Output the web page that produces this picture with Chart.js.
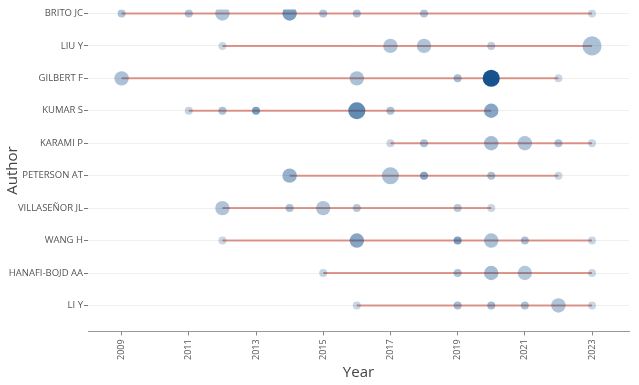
<!DOCTYPE html>
<html>
<head>
<meta charset="utf-8">
<script src="https://cdn.jsdelivr.net/npm/chart.js@4"></script>
<style>
  body { margin: 0; background: #fff; }
  #wrap { width: 639px; height: 385px; }
</style>
</head>
<body>
<div id="wrap"><canvas id="prodChart" width="639" height="385"></canvas></div>
<script>
// authors top to bottom
const authors = ['BRITO JC', 'LIU Y', 'GILBERT F', 'KUMAR S', 'KARAMI P',
    'PETERSON AT', 'VILLASEÑOR JL', 'WANG H', 'HANAFI-BOJD AA', 'LI Y'];

// publication years per author
const years = [
    [2009, 2011, 2012, 2014, 2015, 2016, 2018, 2023],
    [2012, 2017, 2018, 2020, 2023],
    [2009, 2016, 2019, 2020, 2022],
    [2011, 2012, 2013, 2016, 2017, 2020],
    [2017, 2018, 2020, 2021, 2022, 2023],
    [2014, 2017, 2018, 2020, 2022],
    [2012, 2014, 2015, 2016, 2019, 2020],
    [2012, 2016, 2019, 2020, 2021, 2023],
    [2015, 2019, 2020, 2021, 2023],
    [2016, 2019, 2020, 2021, 2022, 2023]
];

// number of articles (bubble size)
const articles = [
    [1, 1, 2, 2, 1, 1, 1, 1],
    [1, 2, 2, 1, 4],
    [2, 2, 1, 3, 1],
    [1, 1, 1, 3, 1, 2],
    [1, 1, 2, 2, 1, 1],
    [2, 3, 1, 1, 1],
    [2, 1, 2, 1, 1, 1],
    [1, 2, 1, 2, 1, 1],
    [1, 1, 2, 2, 1],
    [1, 1, 1, 1, 2, 1]
];

// total citations per year (bubble shade)
const tcPerYear = [
    [5, 5, 5, 10, 5, 5, 5, 2.5],
    [2.5, 5, 5, 4, 5.5],
    [5.5, 5.5, 6, 20, 2.5],
    [3, 5.5, 10, 12.5, 5.5, 9],
    [2.5, 5.5, 6, 5, 5, 2.5],
    [7.5, 5.5, 9, 5.5, 2.5],
    [5, 5.5, 5, 4.5, 4.5, 2.5],
    [2.5, 9, 10, 5.5, 5.5, 2.5],
    [3, 5.5, 6, 4.5, 2.5],
    [2.5, 6, 6, 5.5, 5, 2.5]
];

const xTicks = [2009, 2011, 2013, 2015, 2017, 2019, 2021, 2023];

const maxTc = Math.max(...tcPerYear.flat());

function radiusFor(n) {
    return 4 + 3.2 * Math.sqrt(n - 1);
}

function colorFor(tc) {
    const a = 0.12 + 0.85 * tc / maxTc;
    return `rgba(16, 78, 139, ${a.toFixed(3)})`;
}

// one segment per author, first to last year
const lineSets = authors.map((name, i) => ({
    type: 'line',
    label: name,
    data: [
        { x: Math.min(...years[i]), y: i },
        { x: Math.max(...years[i]), y: i }
    ],
    borderColor: 'rgba(190, 50, 30, 0.5)',
    borderWidth: 2,
    pointRadius: 0,
    order: 2
}));

const points = [];
const radii = [];
const colors = [];
authors.forEach((name, i) => {
    years[i].forEach((yr, j) => {
        points.push({ x: yr, y: i });
        radii.push(radiusFor(articles[i][j]));
        colors.push(colorFor(tcPerYear[i][j]));
    });
});

const FONT = "'Open Sans', sans-serif";

new Chart(document.getElementById('prodChart').getContext('2d'), {
    type: 'scatter',
    data: {
        datasets: [
            ...lineSets,
            {
                type: 'scatter',
                label: 'Articles',
                data: points,
                pointRadius: radii,
                pointBackgroundColor: colors,
                pointBorderWidth: 0,
                order: 1
            }
        ]
    },
    options: {
        responsive: false,
        animation: false,
        layout: { padding: { top: 0, right: 10, bottom: 3, left: 0 } },
        plugins: {
            legend: { display: false },
            tooltip: { enabled: false }
        },
        scales: {
            x: {
                type: 'linear',
                min: 2008,
                max: 2024.1,
                afterBuildTicks: axis => { axis.ticks = xTicks.map(v => ({ value: v })); },
                ticks: {
                    color: '#555',
                    font: { family: FONT, size: 9 },
                    minRotation: 90,
                    maxRotation: 90,
                    padding: 4,
                    callback: v => String(v)
                },
                grid: {
                    drawOnChartArea: false,
                    tickColor: '#888',
                    tickLength: 4
                },
                border: { display: true, color: '#999' },
                title: {
                    display: true,
                    text: 'Year',
                    color: '#444',
                    font: { family: FONT, size: 15 },
                    padding: { top: 0, bottom: 0 }
                }
            },
            y: {
                type: 'linear',
                reverse: true,
                min: -0.12,
                max: 9.8,
                afterBuildTicks: axis => { axis.ticks = authors.map((_, i) => ({ value: i })); },
                afterFit: axis => { axis.width = 88; },
                ticks: {
                    color: '#555',
                    font: { family: FONT, size: 9.5 },
                    padding: 1,
                    callback: v => authors[v]
                },
                grid: {
                    color: '#efefef',
                    tickColor: '#777',
                    tickLength: 4
                },
                border: { display: false },
                title: {
                    display: true,
                    text: 'Author',
                    color: '#444',
                    font: { family: FONT, size: 15 },
                    padding: { top: 4, bottom: 0 }
                }
            }
        }
    }
});
</script>
</body>
</html>
